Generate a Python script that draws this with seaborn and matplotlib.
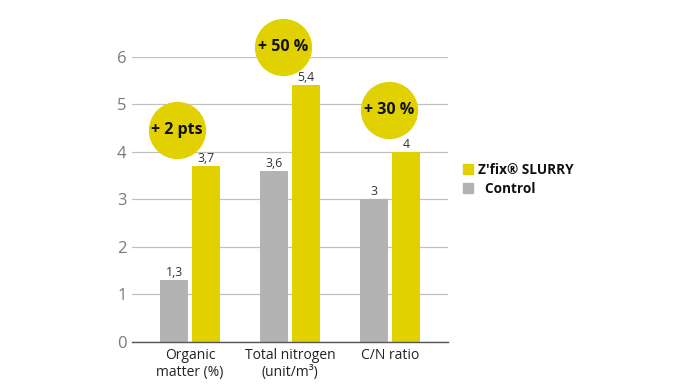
import pandas as pd
import seaborn as sns
import matplotlib.pyplot as plt

# Valeurs
categories = ["Organic\nmatter (%)", "Total nitrogen\n(unit/m³)", "C/N ratio"]
control = [1.3, 3.6, 3.0]
zfix = [3.7, 5.4, 4.0]
control_labels = ["1,3", "3,6", "3"]
zfix_labels = ["3,7", "5,4", "4"]
gains = ["+ 2 pts", "+ 50 %", "+ 30 %"]
gain_pos = [(-0.13, 4.46), (0.93, 6.21), (1.99, 4.88)]
yticks = [0, 1, 2, 3, 4, 5, 6]

YELLOW = "#E2D100"
GREY = "#B3B3B3"

df = pd.DataFrame({
    "cat": categories * 2,
    "val": control + zfix,
    "serie": ["Control"] * 3 + ["Z'fix® SLURRY"] * 3,
})

sns.set_style("white")
plt.rcParams['font.family'] = ['Open Sans', 'DejaVu Sans']

fig = plt.figure(figsize=(6.95, 3.9), dpi=100)
ax = fig.add_axes([0.19, 0.1231, 0.4547, 0.7308])

sns.barplot(data=df, x="cat", y="val", hue="serie",
            hue_order=["Control", "Z'fix® SLURRY"],
            palette=[GREY, YELLOW], width=0.64, gap=0.1,
            saturation=1, legend=False, linewidth=0, ax=ax)

# etiquettes de valeur au dessus des barres
for cont, labels in zip(ax.containers, [control_labels, zfix_labels]):
    ax.bar_label(cont, labels=labels, padding=1, fontsize=8.8, color="#333333")

ax.set_xlim(-0.58, 2.58)
ax.set_ylim(0, 6)
ax.set_yticks(yticks)
ax.set_yticklabels([str(t) for t in yticks], fontsize=12, color="#7a7a7a")
ax.tick_params(axis="y", length=0, pad=4)
ax.tick_params(axis="x", length=0, pad=4, labelsize=10, labelcolor="#222222")
ax.set_xlabel("")
ax.set_ylabel("")
ax.yaxis.grid(True, color="#c0c0c0", linewidth=0.9)
ax.set_axisbelow(True)
for s in ["top", "right", "left"]:
    ax.spines[s].set_visible(False)
ax.spines["bottom"].set_color("#555555")
ax.spines["bottom"].set_linewidth(1)

# bulles de gain
for txt, (gx, gy) in zip(gains, gain_pos):
    ax.scatter([gx], [gy], s=1700, color=YELLOW, clip_on=False, zorder=5, linewidths=0)
    ax.text(gx, gy, txt, ha="center", va="center", fontsize=11.5,
            fontweight="bold", color="#111111", zorder=6)

# legende
handles = [plt.Rectangle((0, 0), 1, 1, color=YELLOW),
           plt.Rectangle((0, 0), 1, 1, color=GREY)]
leg = fig.legend(handles, ["Z'fix® SLURRY", "  Control"], loc="upper left",
                 bbox_to_anchor=(0.648, 0.613), frameon=False,
                 handlelength=0.75, handleheight=0.75, handletextpad=0.4,
                 labelspacing=0.35, prop={"weight": "bold", "size": 9.8})
for t in leg.get_texts():
    t.set_color("#111111")

plt.savefig("out.png", dpi=100)
plt.close()
